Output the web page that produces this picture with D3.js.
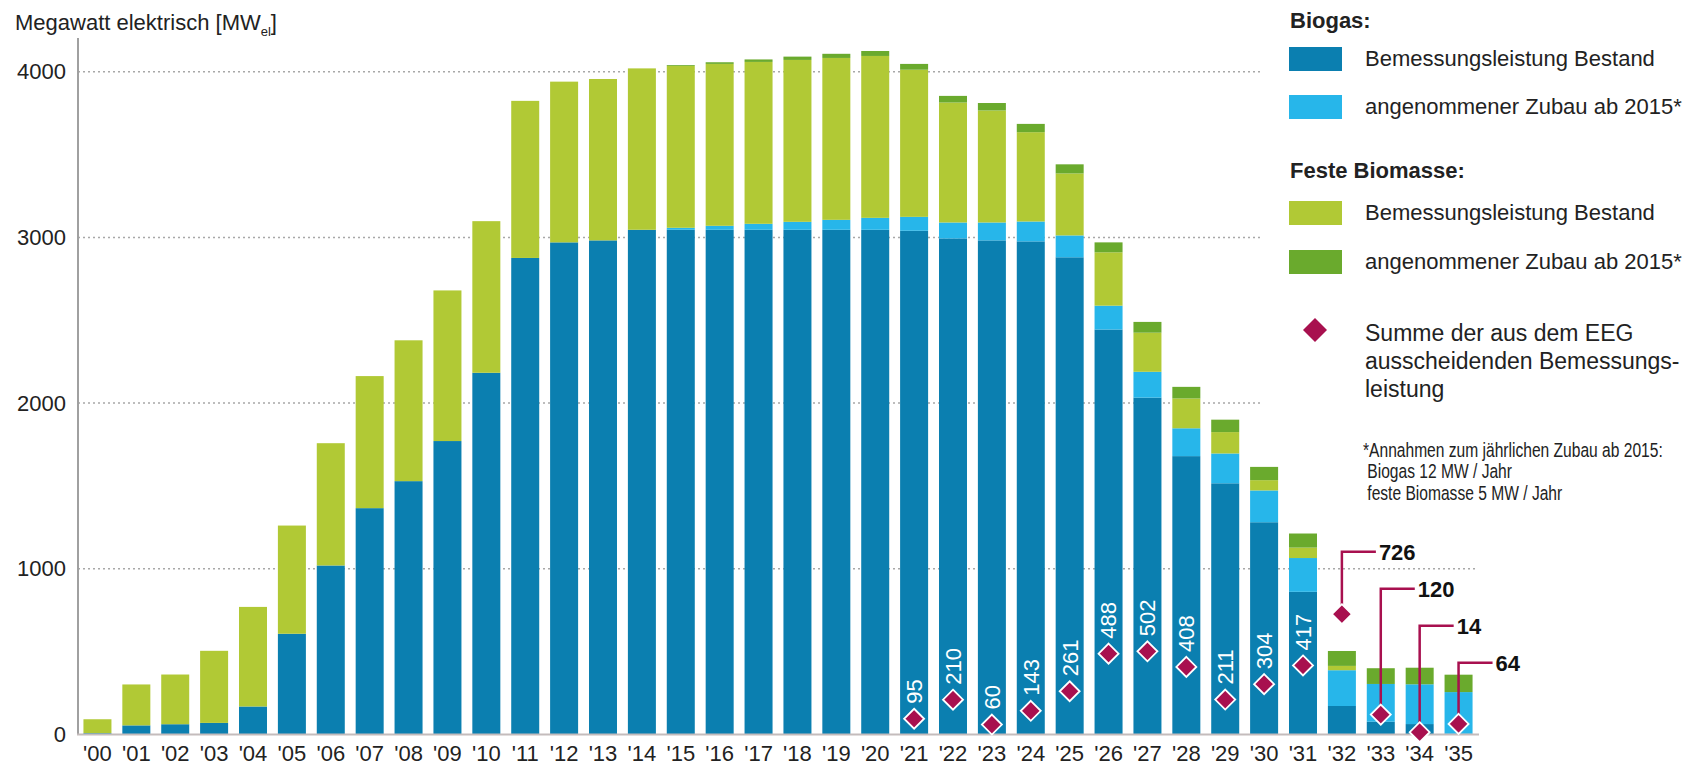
<!DOCTYPE html>
<html>
<head>
<meta charset="utf-8">
<script src="https://cdn.jsdelivr.net/npm/d3@7"></script>
<style>
body { margin: 0; background: #fff; }
svg { display: block; font-family: "Liberation Sans", Arial, sans-serif; }
</style>
</head>
<body>
<svg id="chart" width="1698" height="767"></svg>
<script>
// Jahre 2000-2035
var years = ['00','01','02','03','04','05','06','07','08','09','10','11','12','13','14','15','16','17',
             '18','19','20','21','22','23','24','25','26','27','28','29','30','31','32','33','34','35'];

// Biogas: Bemessungsleistung Bestand (MW el)
var biogasBestand = [8, 55, 62, 70, 169, 608, 1020, 1366, 1529, 1771, 2183, 2876, 2970, 2982, 3046, 3046, 3046, 3046,
                     3046, 3046, 3046, 3040, 2994, 2982, 2976, 2880, 2444, 2033, 1680, 1516, 1281, 861, 172, 77, 63, 4];
// Biogas: angenommener Zubau ab 2015
var biogasZubau = [0, 0, 0, 0, 0, 0, 0, 0, 0, 0, 0, 0, 0, 0, 0, 12, 24, 36,
                   48, 60, 72, 84, 96, 108, 120, 132, 144, 156, 168, 180, 192, 204, 216, 228, 240, 252];
// Feste Biomasse: Bemessungsleistung Bestand
var biomasseBestand = [84, 247, 300, 435, 601, 653, 738, 797, 850, 909, 915, 948, 970, 974, 974, 977, 977, 977,
                       977, 977, 977, 888, 724, 676, 539, 374, 322, 236, 180, 129, 62, 63, 26, 0, 0, 0];
// Feste Biomasse: angenommener Zubau ab 2015
var biomasseZubau = [0, 0, 0, 0, 0, 0, 0, 0, 0, 0, 0, 0, 0, 0, 0, 5, 10, 15,
                     20, 25, 30, 35, 40, 45, 50, 55, 60, 65, 70, 75, 80, 85, 90, 95, 100, 105];

// Summe der aus dem EEG ausscheidenden Bemessungsleistung
var exitYears = ['21','22','23','24','25','26','27','28','29','30','31','32','33','34','35'];
var exitValues = [95, 210, 60, 143, 261, 488, 502, 408, 211, 304, 417, 726, 120, 14, 64];
var calloutYears = ['32','33','34','35'];

var yTicks = [0, 1000, 2000, 3000, 4000];

var keys = ['biogasBestand', 'biogasZubau', 'biomasseBestand', 'biomasseZubau'];
var colors = {
    biogasBestand: '#0b7fb0',
    biogasZubau: '#27b6ea',
    biomasseBestand: '#b1c935',
    biomasseZubau: '#6aaa2d'
};
var crimson = '#a8104f';

var rows = years.map(function(d, i) {
    return {
        year: d,
        biogasBestand: biogasBestand[i],
        biogasZubau: biogasZubau[i],
        biomasseBestand: biomasseBestand[i],
        biomasseZubau: biomasseZubau[i]
    };
});

var svg = d3.select('#chart');

var x = d3.scaleBand()
    .domain(years)
    .range([78, 1478])
    .paddingInner(0.28)
    .paddingOuter(0.14);

var y = d3.scaleLinear()
    .domain([0, 4000])
    .range([734.5, 71.7]);

// Gitterlinien
svg.append('g').selectAll('line')
    .data(yTicks.filter(function(d) { return d > 0; }))
    .enter().append('line')
    .attr('x1', 78)
    .attr('x2', function(d) { return d === 1000 ? 1478 : 1262; })
    .attr('y1', function(d) { return y(d); })
    .attr('y2', function(d) { return y(d); })
    .style('stroke', '#a8a8a8')
    .style('stroke-width', 1.5)
    .style('stroke-dasharray', '2,3');

// gestapelte Balken
var series = d3.stack().keys(keys)(rows);

svg.append('g').selectAll('g')
    .data(series)
    .enter().append('g')
    .style('fill', function(d) { return colors[d.key]; })
    .selectAll('rect')
    .data(function(d) { return d; })
    .enter().append('rect')
    .attr('x', function(d) { return x(d.data.year); })
    .attr('width', x.bandwidth())
    .attr('y', function(d) { return y(d[1]); })
    .attr('height', function(d) { return Math.max(0, y(d[0]) - y(d[1])); });

// Achsen
svg.append('line')
    .attr('x1', 78).attr('x2', 78)
    .attr('y1', 38).attr('y2', y(0))
    .style('stroke', '#a0a0a0').style('stroke-width', 2);
svg.append('line')
    .attr('x1', 77).attr('x2', 1479)
    .attr('y1', y(0)).attr('y2', y(0))
    .style('stroke', '#c4bcbc').style('stroke-width', 2);

var yAxis = svg.append('g')
    .attr('transform', 'translate(78,0)')
    .call(d3.axisLeft(y).tickValues(yTicks).tickSize(0).tickPadding(12).tickFormat(d3.format('d')));
yAxis.select('.domain').remove();
yAxis.selectAll('text')
    .style('font-size', '22px')
    .style('font-family', '"Liberation Sans", Arial, sans-serif')
    .style('fill', '#222');

var xAxis = svg.append('g')
    .attr('transform', 'translate(0,' + y(0) + ')')
    .call(d3.axisBottom(x).tickSize(0).tickFormat(function(d) { return "'" + d; }));
xAxis.select('.domain').remove();
xAxis.selectAll('text')
    .attr('y', 26)
    .attr('dy', 0)
    .style('font-size', '22px')
    .style('font-family', '"Liberation Sans", Arial, sans-serif')
    .style('fill', '#222');

// Achsentitel
var title = svg.append('text')
    .attr('x', 15).attr('y', 30)
    .style('font-size', '22px')
    .style('fill', '#222');
title.append('tspan').text('Megawatt elektrisch [MW');
title.append('tspan').attr('dy', 6).style('font-size', '13px').text('el');
title.append('tspan').attr('dy', -6).text(']');

// ausscheidende Leistung
function diamond(s) {
    return 'M0,' + (-s) + 'L' + s + ',0L0,' + s + 'L' + (-s) + ',0Z';
}

var exits = exitYears.map(function(d, i) { return { year: d, value: exitValues[i] }; });
var inBar = exits.filter(function(d) { return calloutYears.indexOf(d.year) < 0; });
var callouts = exits.filter(function(d) { return calloutYears.indexOf(d.year) >= 0; });

function cx(d) { return x(d) + x.bandwidth() / 2; }

// Hinweislinien für '32-'35
callouts.forEach(function(d, i) {
    var ly = y(1000) - 17 + i * 37;
    var px = cx(d.year);
    svg.append('path')
        .attr('d', 'M' + px + ',' + y(d.value) + 'V' + ly + 'H' + (px + 34))
        .style('fill', 'none')
        .style('stroke', crimson)
        .style('stroke-width', 2.5);
    svg.append('text')
        .attr('x', px + 37)
        .attr('y', ly)
        .attr('dy', '0.35em')
        .style('font-size', '22px')
        .style('font-weight', 'bold')
        .style('fill', '#111')
        .text(d.value);
});

svg.append('g').selectAll('path')
    .data(exits)
    .enter().append('path')
    .attr('d', diamond(10))
    .attr('transform', function(d) { return 'translate(' + cx(d.year) + ',' + y(d.value) + ')'; })
    .style('fill', crimson)
    .style('stroke', '#fff')
    .style('stroke-width', 1.8);

svg.append('g').selectAll('text')
    .data(inBar)
    .enter().append('text')
    .attr('transform', function(d) {
        return 'translate(' + cx(d.year) + ',' + (y(d.value) - 15) + ') rotate(-90)';
    })
    .attr('dy', '0.36em')
    .style('font-size', '22px')
    .style('fill', '#fff')
    .text(function(d) { return d.value; });

// Legende
var legend = svg.append('g');
legend.append('text').attr('x', 1290).attr('y', 28)
    .style('font-size', '22px').style('font-weight', 'bold').style('fill', '#222')
    .text('Biogas:');
legend.append('text').attr('x', 1290).attr('y', 178)
    .style('font-size', '22px').style('font-weight', 'bold').style('fill', '#222')
    .text('Feste Biomasse:');

var legendItems = [
    { key: 'biogasBestand', label: 'Bemessungsleistung Bestand', top: 47 },
    { key: 'biogasZubau', label: 'angenommener Zubau ab 2015*', top: 95 },
    { key: 'biomasseBestand', label: 'Bemessungsleistung Bestand', top: 201 },
    { key: 'biomasseZubau', label: 'angenommener Zubau ab 2015*', top: 250 }
];
legendItems.forEach(function(d) {
    legend.append('rect')
        .attr('x', 1289).attr('y', d.top)
        .attr('width', 53).attr('height', 24)
        .style('fill', colors[d.key]);
    legend.append('text')
        .attr('x', 1365).attr('y', d.top + 19)
        .style('font-size', '22px').style('fill', '#222')
        .text(d.label);
});

legend.append('path')
    .attr('d', diamond(12))
    .attr('transform', 'translate(1315,330)')
    .style('fill', crimson);
['Summe der aus dem EEG', 'ausscheidenden Bemessungs-', 'leistung'].forEach(function(t, i) {
    legend.append('text')
        .attr('x', 1365).attr('y', 341 + i * 28)
        .style('font-size', '23px').style('fill', '#222')
        .text(t);
});

var note = legend.append('g').attr('transform', 'translate(1363,0) scale(0.8,1)');
['*Annahmen zum jährlichen Zubau ab 2015:', ' Biogas 12 MW / Jahr', ' feste Biomasse 5 MW / Jahr'].forEach(function(t, i) {
    note.append('text')
        .attr('x', 0).attr('y', 457 + i * 21.5)
        .attr('xml:space', 'preserve')
        .style('white-space', 'pre')
        .style('font-size', '19.5px').style('fill', '#222')
        .text(t);
});
</script>
</body>
</html>
